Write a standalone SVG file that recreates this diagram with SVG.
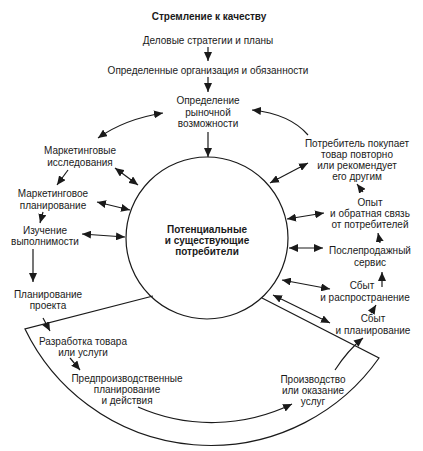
<svg xmlns="http://www.w3.org/2000/svg" width="423" height="451" viewBox="0 0 423 451">
<style>
text{font-family:"Liberation Sans",Arial,sans-serif;font-size:10px;fill:#1a1a1a;text-anchor:middle}
.b{font-weight:bold}
.ln{fill:none;stroke:#1a1a1a;stroke-width:1.2}
.a{fill:none;stroke:#1a1a1a;stroke-width:1.2;marker-end:url(#ah)}
.d{fill:none;stroke:#1a1a1a;stroke-width:1.2;marker-end:url(#ah);marker-start:url(#ah)}
</style>
<defs>
<marker id="ah" markerUnits="userSpaceOnUse" markerWidth="10" markerHeight="8" refX="9" refY="4" orient="auto-start-reverse">
<path d="M0,0 L9,4 L0,8 z" fill="#1a1a1a"/>
</marker>
</defs>
<rect width="423" height="451" fill="#fff"/>
<g id="shapes">
<circle class="ln" cx="207" cy="238" r="81"/>
<path class="ln" d="M153,296 L25,329 A206,206 0 0 0 379,358 L262,298"/>
</g>
<g id="title"><text class="b" x="209" y="20">Стремление к качеству</text></g>
<g id="n1"><text x="208" y="44">Деловые стратегии и планы</text></g>
<g id="n2"><text x="208" y="74">Определенные организация и обязанности</text></g>
<g id="n3"><text x="208" y="104">Определение</text><text x="208" y="116">рыночной</text><text x="208" y="127">возможности</text></g>
<g id="center"><text class="b" x="207" y="233">Потенциальные</text><text class="b" x="207" y="244">и существующие</text><text class="b" x="207" y="255">потребители</text></g>
<g id="n4"><text x="80" y="154">Маркетинговые</text><text x="80" y="166">исследования</text></g>
<g id="n5"><text x="53" y="197">Маркетинговое</text><text x="53" y="209">планирование</text></g>
<g id="n6"><text x="45" y="234">Изучение</text><text x="45" y="245">выполнимости</text></g>
<g id="n7"><text x="48" y="298">Планирование</text><text x="48" y="309">проекта</text></g>
<g id="n8"><text x="83" y="345">Разработка товара</text><text x="83" y="356">или услуги</text></g>
<g id="n9"><text x="127" y="382">Предпроизводственные</text><text x="127" y="393">планирование</text><text x="127" y="404">и действия</text></g>
<g id="n10"><text x="313" y="383">Производство</text><text x="313" y="394">или оказание</text><text x="313" y="405">услуг</text></g>
<g id="n11"><text x="373" y="322">Сбыт</text><text x="373" y="334">и планирование</text></g>
<g id="n12"><text x="362" y="289">Сбыт</text><text x="365" y="301">и распространение</text></g>
<g id="n13"><text x="370" y="254">Послепродажный</text><text x="370" y="266">сервис</text></g>
<g id="n14"><text x="370" y="206">Опыт</text><text x="370" y="217">и обратная связь</text><text x="370" y="228">от потребителей</text></g>
<g id="n15"><text x="357" y="147">Потребитель покупает</text><text x="357" y="158">товар повторно</text><text x="357" y="169">или рекомендует</text><text x="357" y="180">его другим</text></g>
<g id="connectors">
<path class="a" d="M208,47 L208,61"/>
<path class="a" d="M208,77 L208,92"/>
<path class="a" d="M208,132 L208,157"/>
<path class="d" d="M98,138 Q125,119 163,113"/>
<path class="a" d="M308,135 Q290,114 252,110"/>
<path class="a" d="M68,170 L57,185"/>
<path class="d" d="M115,168 L138,185"/>
<path class="d" d="M97,202 L130,210"/>
<path class="a" d="M43,212 L40,223"/>
<path class="d" d="M82,234 L125,237"/>
<path class="a" d="M33,249 L33,282"/>
<path class="a" d="M43,318 L50,331"/>
<path class="a" d="M70,358 L80,370"/>
<path class="a" d="M138,407 A183,183 0 0 0 292,404"/>
<path class="a" d="M335,370 Q348,350 363,338"/>
<path class="d" d="M273,295 L330,323"/>
<path class="d" d="M282,280 L330,289"/>
<path class="a" d="M371,313 L376,305"/>
<path class="a" d="M382,287 L382,272"/>
<path class="d" d="M289,248 L323,248"/>
<path class="a" d="M380,243 L378,233"/>
<path class="d" d="M287,219 L324,213"/>
<path class="a" d="M363,192 L357,184"/>
<path class="d" d="M270,183 L308,163"/>
</g>
</svg>
